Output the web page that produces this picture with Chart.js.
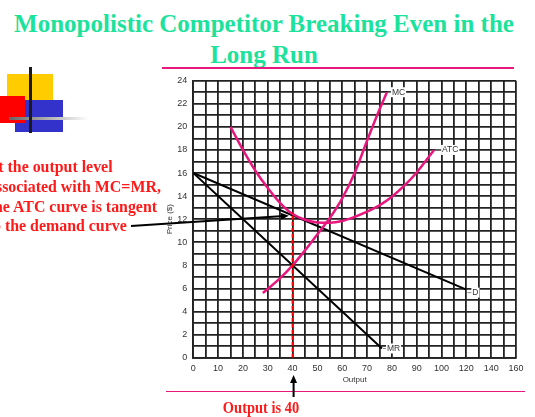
<!DOCTYPE html>
<html>
<head>
<meta charset="utf-8">
<script src="https://cdn.jsdelivr.net/npm/chart.js@4.4.1/dist/chart.umd.min.js"></script>
<style>
    html, body { margin: 0; padding: 0; background: #fff; overflow: hidden; }
    body { width: 535px; height: 417px; position: relative; }
    #wrap { position: absolute; left: 0; top: 0; width: 535px; height: 417px; }
    .title { position: absolute; left: 0; width: 528px; text-align: center; font-family: "Liberation Serif", "Times New Roman", serif;
        font-weight: bold; font-size: 25px; line-height: 31.6px; color: #1de29b; white-space: nowrap; }
    .note { position: absolute; font-family: "Liberation Serif", "Times New Roman", serif; font-weight: bold; font-size: 17px;
        line-height: 20px; color: #ff1a1a; white-space: nowrap; text-align: right; transform-origin: right center;
        transform: scaleX(0.935); }
    .rule { position: absolute; background: #e8177d; }
    .box { position: absolute; }
</style>
</head>
<body>
<!-- logo blocks -->
<div class="box" style="left:7px;top:74px;width:46px;height:27px;background:#ffcc00;"></div>
<div class="box" style="left:15px;top:100px;width:48px;height:32px;background:#3333cc;"></div>
<div class="box" style="left:0px;top:96px;width:25px;height:27px;background:#ff0000;"></div>
<div class="box" style="left:9px;top:117px;width:80px;height:3px;background:linear-gradient(to right,#666,#fff);"></div>
<div class="box" style="left:29px;top:67px;width:3px;height:66px;background:#1a1a1a;"></div>

<div class="title" style="top:7.5px;">Monopolistic Competitor Breaking Even in the</div>
<div class="title" style="top:39.1px;">Long Run</div>
<div class="rule" style="left:162px;top:67px;width:352px;height:2px;"></div>
<div class="rule" style="left:166px;top:390.5px;width:359px;height:1px;"></div>

<div id="wrap"><canvas id="chart" width="535" height="417"></canvas></div>

<div class="note" style="right:422px;top:157px;">At the output level</div>
<div class="note" style="right:374px;top:177px;">associated with MC=MR,</div>
<div class="note" style="right:378px;top:197px;">the ATC curve is tangent</div>
<div class="note" style="right:408px;top:216px;">to the demand curve</div>
<div class="note" style="left:211px;width:100px;text-align:center;top:398px;transform-origin:center center;transform:scaleX(0.85);">Output is 40</div>

<script>
// x positions are in "grid units": each step of 10 is one labelled tick,
// the last three ticks read 120, 140, 160 on the original axis
const xTickLabels = ['0', '10', '20', '30', '40', '50', '60', '70', '80', '90', '100', '120', '140', '160'];

const mcX = [28, 35, 40, 45, 50, 55, 60, 65, 70, 75, 78];
const mcY = [5.6, 6.9, 8, 9.3, 10.7, 12.1, 13.8, 16, 18.8, 21.5, 23];

const atcX = [15, 20, 25, 30, 35, 40, 45, 50, 55, 60, 65, 70, 75, 80, 85, 90, 97];
const atcY = [20, 18.0, 16.2, 14.7, 13.4, 12.45, 11.95, 11.72, 11.7, 11.85, 12.2, 12.65, 13.2, 13.95, 14.9, 16.05, 18];

const demandX = [0, 110];
const demandY = [16, 5.9];

const mrX = [0, 76];
const mrY = [16, 0.8];

const outputX = [40, 40];
const outputY = [0, 12.6];

const pink = '#e8177d';

function pts(xs, ys) {
    return xs.map((x, i) => ({ x: x, y: ys[i] }));
}

// draws the small curve labels and the two arrows
const annotate = {
    id: 'annotate',
    afterDatasetsDraw(chart) {
        const ctx = chart.ctx;
        const xs = chart.scales.x, ys = chart.scales.y;
        ctx.save();
        ctx.font = '8.5px "Liberation Sans", Arial, sans-serif';
        ctx.textBaseline = 'middle';
        chart.data.datasets.forEach((ds, i) => {
            if (!ds.endLabel) return;
            const data = chart.getDatasetMeta(i).data;
            const p = data[data.length - 1];
            const tx = p.x + ds.endLabel.dx;
            const ty = p.y + ds.endLabel.dy;
            const w = ctx.measureText(ds.endLabel.text).width;
            ctx.fillStyle = '#fff';
            ctx.fillRect(tx - 1, ty - 5, w + 2, 10);
            ctx.strokeStyle = '#888';
            ctx.lineWidth = 1;
            ctx.beginPath();
            ctx.moveTo(p.x + 1, ty);
            ctx.lineTo(tx - 1, ty);
            ctx.stroke();
            ctx.fillStyle = '#333';
            ctx.fillText(ds.endLabel.text, tx, ty);
        });

        function arrow(x0, y0, x1, y1) {
            const a = Math.atan2(y1 - y0, x1 - x0);
            ctx.strokeStyle = '#000';
            ctx.fillStyle = '#000';
            ctx.lineWidth = 2;
            ctx.beginPath();
            ctx.moveTo(x0, y0);
            ctx.lineTo(x1 - 5 * Math.cos(a), y1 - 5 * Math.sin(a));
            ctx.stroke();
            ctx.beginPath();
            ctx.moveTo(x1, y1);
            ctx.lineTo(x1 - 8 * Math.cos(a) + 3.5 * Math.sin(a), y1 - 8 * Math.sin(a) - 3.5 * Math.cos(a));
            ctx.lineTo(x1 - 8 * Math.cos(a) - 3.5 * Math.sin(a), y1 - 8 * Math.sin(a) + 3.5 * Math.cos(a));
            ctx.closePath();
            ctx.fill();
        }
        arrow(131, 226, xs.getPixelForValue(38.5), ys.getPixelForValue(12.3));
        const ox = xs.getPixelForValue(40) + 1;
        arrow(ox, 397, ox, 375);
        ctx.restore();
    }
};

const ctx = document.getElementById('chart').getContext('2d');
new Chart(ctx, {
    type: 'line',
    data: {
        datasets: [
            {
                label: 'Output',
                data: pts(outputX, outputY),
                borderColor: '#ff0000',
                borderWidth: 2,
                borderDash: [4, 2],
                pointRadius: 0
            },
            {
                label: 'MC',
                data: pts(mcX, mcY),
                borderColor: pink,
                borderWidth: 2.5,
                tension: 0.4,
                cubicInterpolationMode: 'monotone',
                pointRadius: 0,
                endLabel: { text: 'MC', dx: 5, dy: 0 }
            },
            {
                label: 'ATC',
                data: pts(atcX, atcY),
                borderColor: pink,
                borderWidth: 2.5,
                cubicInterpolationMode: 'monotone',
                pointRadius: 0,
                endLabel: { text: 'ATC', dx: 8, dy: 0 }
            },
            {
                label: 'D',
                data: pts(demandX, demandY),
                borderColor: '#000',
                borderWidth: 2,
                pointRadius: 0,
                endLabel: { text: 'D', dx: 6, dy: 3 }
            },
            {
                label: 'MR',
                data: pts(mrX, mrY),
                borderColor: '#000',
                borderWidth: 2,
                pointRadius: 0,
                endLabel: { text: 'MR', dx: 5, dy: 0 }
            }
        ]
    },
    options: {
        responsive: false,
        animation: false,
        layout: { padding: { left: 160, top: 80.7, right: 19, bottom: 29.3 } },
        plugins: { legend: { display: false }, tooltip: { enabled: false } },
        scales: {
            x: {
                type: 'linear',
                min: 0,
                max: 130,
                afterFit: s => { s.height = 30; },
                grid: { color: '#222', lineWidth: 1.8, drawTicks: false },
                border: { color: '#222', width: 1.8 },
                ticks: {
                    stepSize: 5,
                    padding: 5,
                    maxRotation: 0,
                    autoSkip: false,
                    color: '#333',
                    font: { family: '"Liberation Sans", Arial, sans-serif', size: 9 },
                    callback: v => (v % 10 === 0 ? xTickLabels[v / 10] : '')
                },
                title: {
                    display: true,
                    text: 'Output',
                    color: '#333',
                    padding: { top: 0, bottom: 3 },
                    font: { family: '"Liberation Sans", Arial, sans-serif', size: 8 }
                }
            },
            y: {
                type: 'linear',
                min: 0,
                max: 24,
                afterFit: s => { s.width = 33.3; },
                grid: { color: '#222', lineWidth: 1.8, drawTicks: false },
                border: { color: '#222', width: 1.8 },
                ticks: {
                    stepSize: 1,
                    padding: 6,
                    autoSkip: false,
                    color: '#333',
                    font: { family: '"Liberation Sans", Arial, sans-serif', size: 9 },
                    callback: v => (v % 2 === 0 ? v : '')
                },
                title: {
                    display: true,
                    text: 'Price ($)',
                    color: '#333',
                    padding: { top: 5, bottom: 0 },
                    font: { family: '"Liberation Sans", Arial, sans-serif', size: 8 }
                }
            }
        }
    },
    plugins: [annotate]
});
</script>
</body>
</html>
